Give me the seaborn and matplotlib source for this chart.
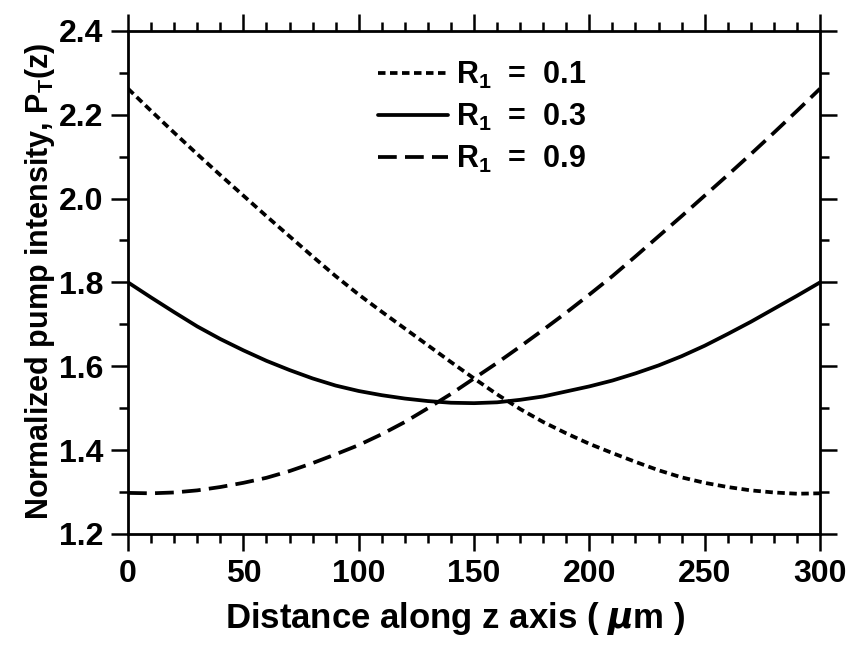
import matplotlib
matplotlib.use("Agg")
import matplotlib.pyplot as plt
from matplotlib.ticker import MultipleLocator
import seaborn as sns
import pandas as pd

# ---- data ----
z_um = [0, 10, 20, 30, 40, 50, 60, 70, 80, 90, 100, 110, 120, 130, 140, 150,
        160, 170, 180, 190, 200, 210, 220, 230, 240, 250, 260, 270, 280, 290, 300]
p_r01 = [2.262, 2.209, 2.157, 2.106, 2.056, 2.007, 1.958, 1.910, 1.862, 1.815, 1.771,
         1.730, 1.690, 1.650, 1.610, 1.571, 1.533, 1.498, 1.467, 1.440, 1.415,
         1.393, 1.372, 1.352, 1.335, 1.322, 1.312, 1.304, 1.299, 1.296, 1.297]
p_r03 = [1.800, 1.764, 1.729, 1.695, 1.665, 1.638, 1.613, 1.591, 1.571, 1.554, 1.541,
         1.531, 1.523, 1.517, 1.513, 1.512, 1.514, 1.520, 1.528, 1.540, 1.552,
         1.566, 1.583, 1.602, 1.624, 1.649, 1.677, 1.706, 1.737, 1.768, 1.800]
p_r09 = [1.298, 1.297, 1.299, 1.304, 1.312, 1.322, 1.334, 1.350, 1.369, 1.390, 1.412,
         1.438, 1.467, 1.500, 1.534, 1.571, 1.608, 1.647, 1.687, 1.728, 1.771,
         1.815, 1.862, 1.910, 1.958, 2.007, 2.056, 2.106, 2.157, 2.209, 2.262]
labels = [r"$\mathregular{R_1}$  =  0.1", r"$\mathregular{R_1}$  =  0.3", r"$\mathregular{R_1}$  =  0.9"]
x_ticks = [0, 50, 100, 150, 200, 250, 300]
y_ticks = [1.2, 1.4, 1.6, 1.8, 2.0, 2.2, 2.4]

sns.set_theme(style="ticks")
plt.rcParams["font.family"] = ["Liberation Sans", "DejaVu Sans"]
plt.rcParams["font.weight"] = "bold"
plt.rcParams["axes.labelweight"] = "bold"
plt.rcParams["mathtext.default"] = "regular"
plt.rcParams["text.color"] = "black"
plt.rcParams["axes.labelcolor"] = "black"

fig = plt.figure(figsize=(8.48, 6.56), dpi=100)
ax = fig.add_axes([0.151, 0.186, 0.816, 0.767])

lw = 2.7
styles = [(0, (2.0, 1.2)), "-", (0, (5.0, 2.2))]
series = [p_r01, p_r03, p_r09]
for vals, lab, ls in zip(series, labels, styles):
    df = pd.DataFrame({"z": z_um, "P": vals})
    sns.lineplot(data=df, x="z", y="P", ax=ax, color="black", linewidth=lw,
                 linestyle=ls, label=lab)

ax.set_xlim(0, 300)
ax.set_ylim(1.2, 2.4)
ax.set_xticks(x_ticks)
ax.set_yticks(y_ticks)
ax.set_xticklabels([str(t) for t in x_ticks])
ax.set_yticklabels([f"{t:.1f}" for t in y_ticks])
ax.xaxis.set_minor_locator(MultipleLocator(10))
ax.yaxis.set_minor_locator(MultipleLocator(0.1))

for s in ax.spines.values():
    s.set_linewidth(2.0)
    s.set_color("black")

ax.tick_params(which="both", direction="out", top=True, right=True,
               color="black", width=1.8)
ax.tick_params(which="major", length=12)
ax.tick_params(which="minor", length=6.5)
ax.tick_params(axis="both", which="major", labelsize=23, pad=6, labelcolor="black")

ax.set_xlabel(r"Distance along z axis ( $\mathit{\mu}$m )", fontsize=25,
              fontweight="bold", color="black")
ax.xaxis.set_label_coords(0.473, -0.131)
ax.set_ylabel(r"Normalized pump intensity, $\mathregular{P_T(z)}$", fontsize=22,
              fontweight="bold", color="black")
ax.yaxis.set_label_coords(-0.103, 0.503)

leg = ax.legend(loc="upper left", bbox_to_anchor=(0.361, 0.943), frameon=False,
                handlelength=2.3, handletextpad=0.25,
                labelspacing=0.36, borderpad=0, borderaxespad=0,
                prop={"family": ["Liberation Sans", "DejaVu Sans"], "weight": "bold", "size": 22})
for t in leg.get_texts():
    t.set_color("black")

fig.savefig("out.png", dpi=100)
